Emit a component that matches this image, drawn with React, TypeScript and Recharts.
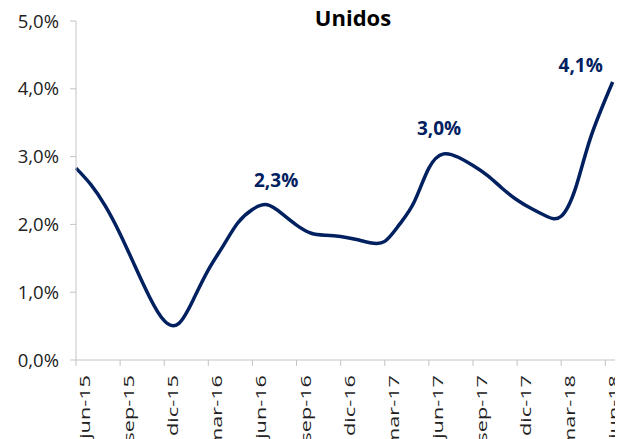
import { LineChart, Line, XAxis, YAxis } from "recharts";

// month index from jun-15 (0) to jun-18 (36); last reading sits a little past the tick
const months = [
  0, 1, 2, 3, 4, 5, 6, 7, 8, 9, 10, 11, 12, 13, 14, 15, 16, 17, 18, 19, 20,
  21, 22, 23, 24, 25, 26, 27, 28, 29, 30, 31, 32, 33, 34, 35, 36.5,
];
const values = [
  2.83, 2.59, 2.27, 1.86, 1.39, 0.93, 0.58, 0.54, 0.9, 1.33, 1.68, 2.02, 2.22,
  2.29, 2.16, 1.99, 1.87, 1.84, 1.82, 1.78, 1.73, 1.75, 2.0, 2.33, 2.83, 3.04,
  2.99, 2.87, 2.72, 2.53, 2.36, 2.23, 2.12, 2.12, 2.55, 3.28, 4.1,
];
const tickLabels = [
  "jun-15", "sep-15", "dic-15", "mar-16", "jun-16", "sep-16", "dic-16",
  "mar-17", "jun-17", "sep-17", "dic-17", "mar-18", "jun-18",
];
const tickMonths = [0, 3, 6, 9, 12, 15, 18, 21, 24, 27, 30, 33, 36];
const yTicks = [0, 1, 2, 3, 4, 5];
const labelledPoints = [13, 25, 36];

const data = months.map((m, i) => ({ m, v: values[i] }));

const NAVY = "#002060";
const AXIS = "#c4c4c4";

// where each value label sits relative to its point
const labelShift: Record<number, [number, number]> = {
  13: [9, -18],
  25: [-4.5, -19],
  36: [-32, -10],
};

const pct = (v: number) => `${v.toFixed(1).replace(".", ",")}%`;

function XTick(props: any) {
  const { x, y, payload } = props;
  const idx = tickMonths.indexOf(payload.value);
  return (
    <g transform={`translate(${x + 14},${y + 7}) rotate(-90) scale(1.55,1)`}>
      <text x={0} y={0} textAnchor="end" fontSize={14} fill="#222">
        {tickLabels[idx]}
      </text>
    </g>
  );
}

function PointLabel(props: any) {
  const { x, y, index, value } = props;
  if (!labelledPoints.includes(index)) return null;
  const [dx, dy] = labelShift[index];
  return (
    <text
      x={x + dx}
      y={y + dy}
      textAnchor="middle"
      fontSize={19}
      fontWeight="bold"
      fill={NAVY}
    >
      {pct(value)}
    </text>
  );
}

export default function App() {
  return (
    <div style={{ fontFamily: "'Open Sans', sans-serif" }}>
      <LineChart
        width={615}
        height={431}
        data={data}
        margin={{ top: 13, right: 3, left: 0, bottom: 0 }}
      >
        <text
          x={345}
          y={18}
          textAnchor="middle"
          fontSize={22}
          fontWeight="bold"
          fill="#000"
        >
          Unidos
        </text>
        <XAxis
          type="number"
          dataKey="m"
          domain={[0, 37]}
          ticks={tickMonths}
          interval={0}
          height={79}
          stroke={AXIS}
          tickSize={6}
          tick={<XTick />}
        />
        <YAxis
          domain={[0, 5]}
          ticks={yTicks}
          width={68}
          stroke={AXIS}
          tickSize={6}
          tickMargin={11}
          tickFormatter={pct}
          tick={{ fontSize: 18.5, fill: "#222" }}
        />
        <Line
          type="natural"
          dataKey="v"
          stroke={NAVY}
          strokeWidth={3.5}
          dot={false}
          activeDot={false}
          label={<PointLabel />}
          isAnimationActive={false}
        />
      </LineChart>
    </div>
  );
}
